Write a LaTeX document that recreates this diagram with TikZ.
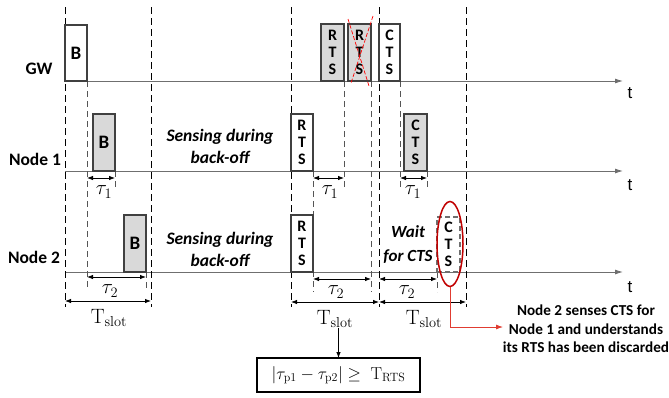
\documentclass[tikz,border=0pt]{standalone}
\usepackage[no-math]{fontspec}
\setmainfont{Carlito}
\newfontfamily\arialf{Liberation Sans}
\usetikzlibrary{arrows.meta,shapes.geometric}
\definecolor{pktgray}{HTML}{D9D9D9}
\definecolor{boxgray}{HTML}{404040}
\definecolor{axgray}{HTML}{6F6F6F}
\definecolor{dgray}{HTML}{555555}
\definecolor{ered}{HTML}{C00000}
\definecolor{pred}{HTML}{E03C31}
\begin{document}
\begin{tikzpicture}[x=1pt,y=-1pt,
 every node/.style={inner sep=0pt,outer sep=0pt},
 axisline/.style={draw=axgray,line width=0.9pt,-{Latex[length=8pt,width=5pt]}},
 longdash/.style={draw=black,line width=0.95pt,dash pattern=on 7pt off 4pt},
 shortdash/.style={draw=dgray,line width=0.85pt,dash pattern=on 6pt off 4pt},
 span/.style={draw=black,line width=0.8pt,{Latex[length=6pt,width=4.5pt]}-{Latex[length=6pt,width=4.5pt]}},
 pkt/.style={draw=boxgray,line width=1.2pt,fill=#1,anchor=south west,
   font=\bfseries\fontsize{16}{17}\selectfont,align=center},
 pkt/.default=white,
 bfont/.style={font=\bfseries\fontsize{19}{22}\selectfont},
 rowlabel/.style={font=\bfseries\fontsize{17.5}{20}\selectfont},
 tlabel/.style={font=\arialf\fontsize{17}{20}\selectfont},
 mlabel/.style={font=\fontsize{20}{24}\selectfont},
 note/.style={font=\bfseries\itshape\fontsize{17.5}{22}\selectfont,align=center},
 xcross/.style={draw=red,line width=0.7pt,dash pattern=on 4pt off 2pt}
]
\useasboundingbox (0,0) rectangle (669,397);

% axes
\coordinate (a0s) at (65,81);  \coordinate (a0e) at (623,81);
\coordinate (a1s) at (65,171); \coordinate (a1e) at (623,171);
\coordinate (a2s) at (65,272); \coordinate (a2e) at (623,272);
\draw[axisline] (a0s) -- (a0e);
\draw[axisline] (a1s) -- (a1e);
\draw[axisline] (a2s) -- (a2e);
\node[tlabel] (t0) at (630,93) {t};
\node[tlabel] (t1) at (630,185) {t};
\node[tlabel] (t2) at (630,287) {t};

% row labels
\node[rowlabel] (lgw) at (39,69) {GW};
\node[rowlabel] (ln1) at (35,159) {Node 1};
\node[rowlabel] (ln2) at (34,257) {Node 2};

% long dashed slot boundaries
\foreach \x/\n in {65/A,151/B,291/C,379/D,466/E}{
  \coordinate (L\n t) at (\x,7);
  \coordinate (L\n b) at (\x,307);
  \draw[longdash] (L\n t) -- (L\n b);
}

% short dashed marks
\foreach \x/\ya/\yb/\n in {87/81/290/a,115/171/190/b,146/272/290/c,313/171/292/d,344/81/188/e,371/81/292/f,400/81/190/g,427/171/190/h,437/272/292/i}{
  \coordinate (S\n t) at (\x,\ya);
  \coordinate (S\n b) at (\x,\yb);
  \draw[shortdash] (S\n t) -- (S\n b);
}

% packets
\node[pkt,bfont,minimum width=22pt,minimum height=56pt] (gwB) at (65,81) {B};
\node[pkt=pktgray,bfont,minimum width=22pt,minimum height=57pt] (n1B) at (93,171) {B};
\node[pkt=pktgray,bfont,minimum width=22pt,minimum height=57pt] (n2B) at (124,272) {B};
\node[pkt=pktgray,minimum width=23pt,minimum height=57pt] (gwR1) at (321,81) {R\\T\\S};
\node[pkt=pktgray,minimum width=23pt,minimum height=57pt] (gwR2) at (348,81) {R\\T\\S};
\node[pkt,minimum width=21pt,minimum height=57pt] (gwC) at (379,81) {C\\T\\S};
\node[pkt,minimum width=22pt,minimum height=57pt] (n1R) at (291,171) {R\\T\\S};
\node[pkt=pktgray,minimum width=23pt,minimum height=57pt] (n1C) at (404,171) {C\\T\\S};
\node[pkt,minimum width=22pt,minimum height=57pt] (n2R) at (291,272) {R\\T\\S};
\node[pkt,draw=axgray,line width=1.3pt,dash pattern=on 5pt off 3pt,minimum width=23pt,minimum height=55pt] (n2C) at (437,272) {C\\T\\S};

% cross on discarded RTS
\coordinate (xa) at (348,19); \coordinate (xb) at (369,86);
\coordinate (xc) at (373,16); \coordinate (xd) at (351,83);
\draw[xcross] (xa) -- (xb);
\draw[xcross] (xc) -- (xd);

% notes
\node[note] (sens1) at (220,146) {Sensing during\\back-off};
\node[note] (sens2) at (220,249) {Sensing during\\back-off};
\node[note,font=\bfseries\itshape\fontsize{17}{24}\selectfont] (wait) at (408,245) {Wait\\for CTS};

% tau spans
\coordinate (p1a) at (87,178);  \coordinate (p1b) at (115,178);
\coordinate (p2a) at (87,277);  \coordinate (p2b) at (146,277);
\coordinate (p3a) at (65,301);  \coordinate (p3b) at (151,301);
\coordinate (q1a) at (313,178); \coordinate (q1b) at (344,178);
\coordinate (q2a) at (400,178); \coordinate (q2b) at (427,178);
\coordinate (q3a) at (313,279); \coordinate (q3b) at (371,279);
\coordinate (q4a) at (379,279); \coordinate (q4b) at (437,279);
\coordinate (q5a) at (291,302); \coordinate (q5b) at (379,302);
\coordinate (q6a) at (379,302); \coordinate (q6b) at (466,302);
\foreach \a/\b in {p1a/p1b,p2a/p2b,p3a/p3b,q1a/q1b,q2a/q2b,q3a/q3b,q4a/q4b,q5a/q5b,q6a/q6b}
  \draw[span] (\a) -- (\b);

\node[mlabel] (tau1a) at (104,192) {$\tau_1$};
\node[mlabel] (tau2a) at (110,291) {$\tau_2$};
\node[mlabel] (tsa) at (109,318) {$\mathrm{T}_{\mathrm{slot}}$};
\node[mlabel] (tau1b) at (330,192) {$\tau_1$};
\node[mlabel] (tau1c) at (413,192) {$\tau_1$};
\node[mlabel] (tau2b) at (336,292) {$\tau_2$};
\node[mlabel] (tau2c) at (407,292) {$\tau_2$};
\node[mlabel] (tsb) at (335,319) {$\mathrm{T}_{\mathrm{slot}}$};
\node[mlabel] (tsc) at (424,319) {$\mathrm{T}_{\mathrm{slot}}$};

% formula box
\node[draw=black,line width=1.1pt,minimum width=163pt,minimum height=34pt,font=\fontsize{17.5}{21}\selectfont] (formula) at (338.5,375)
  {$\left|\tau_{\mathrm{p1}}-\tau_{\mathrm{p2}}\right|\geq\;\mathrm{T}_{\mathrm{RTS}}$};
\draw[line width=0.8pt,-{Latex[length=6pt,width=4.5pt]}] (tsb.south -| formula.north) -- (formula.north);

% red ellipse and pointer
\node[ellipse,draw=ered,line width=1.5pt,minimum width=26pt,minimum height=85pt] (ell) at (450,244) {};
\coordinate (tip) at (503,327);
\draw[pred,line width=0.8pt,-{Latex[length=7pt,width=5pt]}] (ell.south) |- (tip);
\node[font=\bfseries\fontsize{15.2}{18.5}\selectfont,align=center] (ann) at (586,329)
  {Node 2 senses CTS for\\Node 1 and understands\\its RTS has been discarded};
\end{tikzpicture}
\end{document}
